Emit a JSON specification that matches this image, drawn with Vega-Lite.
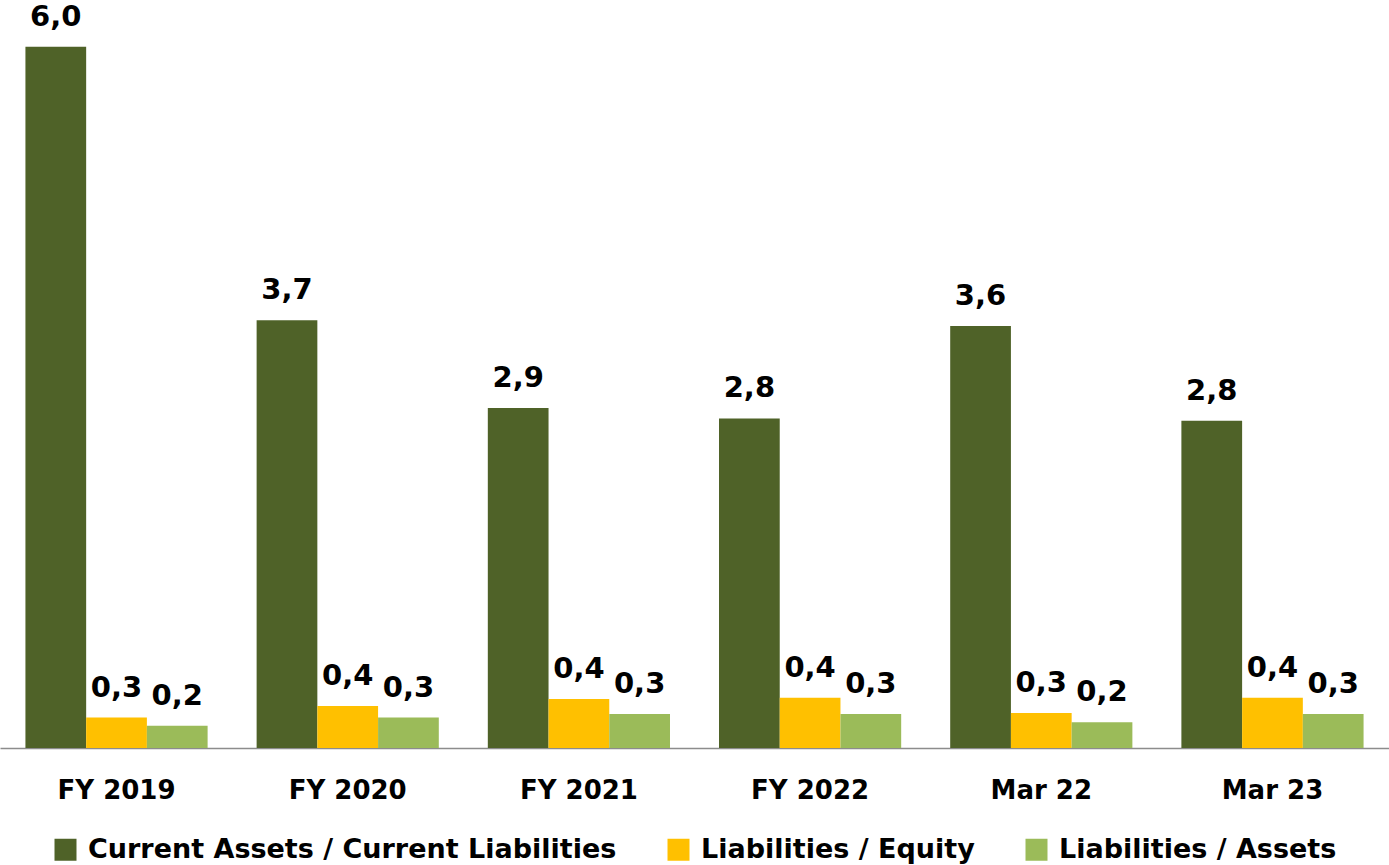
{
  "$schema": "https://vega.github.io/schema/vega-lite/v6.json",
  "width": 1389,
  "height": 748,
  "autosize": {"type": "none"},
  "padding": {"left": 0, "right": 0, "top": 0, "bottom": 117},
  "background": "white",
  "data": {
    "values": [
      {"period": "FY 2019", "series": "Current Assets / Current Liabilities", "value": 6.0},
      {"period": "FY 2019", "series": "Liabilities / Equity", "value": 0.26},
      {"period": "FY 2019", "series": "Liabilities / Assets", "value": 0.19},
      {"period": "FY 2020", "series": "Current Assets / Current Liabilities", "value": 3.66},
      {"period": "FY 2020", "series": "Liabilities / Equity", "value": 0.36},
      {"period": "FY 2020", "series": "Liabilities / Assets", "value": 0.26},
      {"period": "FY 2021", "series": "Current Assets / Current Liabilities", "value": 2.91},
      {"period": "FY 2021", "series": "Liabilities / Equity", "value": 0.42},
      {"period": "FY 2021", "series": "Liabilities / Assets", "value": 0.29},
      {"period": "FY 2022", "series": "Current Assets / Current Liabilities", "value": 2.82},
      {"period": "FY 2022", "series": "Liabilities / Equity", "value": 0.43},
      {"period": "FY 2022", "series": "Liabilities / Assets", "value": 0.29},
      {"period": "Mar 22", "series": "Current Assets / Current Liabilities", "value": 3.61},
      {"period": "Mar 22", "series": "Liabilities / Equity", "value": 0.30},
      {"period": "Mar 22", "series": "Liabilities / Assets", "value": 0.22},
      {"period": "Mar 23", "series": "Current Assets / Current Liabilities", "value": 2.80},
      {"period": "Mar 23", "series": "Liabilities / Equity", "value": 0.43},
      {"period": "Mar 23", "series": "Liabilities / Assets", "value": 0.29}
    ]
  },
  "encoding": {
    "x": {
      "field": "period",
      "type": "nominal",
      "sort": null,
      "scale": {"paddingInner": 0.212, "paddingOuter": 0.11},
      "axis": {
        "title": null,
        "labelAngle": 0,
        "ticks": false,
        "domainColor": "#8c8c8c",
        "domainWidth": 1.5,
        "labelFont": "DejaVu Sans",
        "labelFontWeight": "bold",
        "labelFontSize": 26,
        "labelColor": "#000000",
        "labelPadding": 29
      }
    },
    "xOffset": {
      "field": "series",
      "type": "nominal",
      "sort": ["Current Assets / Current Liabilities", "Liabilities / Equity", "Liabilities / Assets"],
      "scale": {"paddingInner": 0, "paddingOuter": 0}
    },
    "y": {
      "field": "value",
      "type": "quantitative",
      "scale": {"domain": [0, 6.4], "nice": false, "zero": true},
      "axis": null
    }
  },
  "layer": [
    {
      "mark": {"type": "bar"},
      "encoding": {
        "color": {
          "field": "series",
          "type": "nominal",
          "sort": ["Current Assets / Current Liabilities", "Liabilities / Equity", "Liabilities / Assets"],
          "scale": {
            "domain": ["Current Assets / Current Liabilities", "Liabilities / Equity", "Liabilities / Assets"],
            "range": ["#4F6228", "#FFC000", "#9BBB59"]
          },
          "legend": {
            "title": null,
            "orient": "none",
            "direction": "horizontal",
            "legendX": 52,
            "legendY": 836,
            "symbolType": "square",
            "symbolSize": 484,
            "symbolStrokeWidth": 0,
            "symbolOpacity": 1,
            "labelFont": "DejaVu Sans",
            "labelFontWeight": "bold",
            "labelFontSize": 27,
            "labelColor": "#000000",
            "labelOffset": 9,
            "labelLimit": 0,
            "columnPadding": 48
          }
        }
      }
    },
    {
      "mark": {
        "type": "text",
        "baseline": "alphabetic",
        "align": "center",
        "dy": -21,
        "font": "DejaVu Sans",
        "fontWeight": "bold",
        "fontSize": 29,
        "color": "#000000"
      },
      "encoding": {
        "text": {"field": "value", "type": "quantitative", "format": ".1f"}
      }
    }
  ],
  "config": {
    "view": {"stroke": null},
    "locale": {
      "number": {"decimal": ",", "thousands": ".", "grouping": [3], "currency": ["", " €"]}
    }
  }
}
